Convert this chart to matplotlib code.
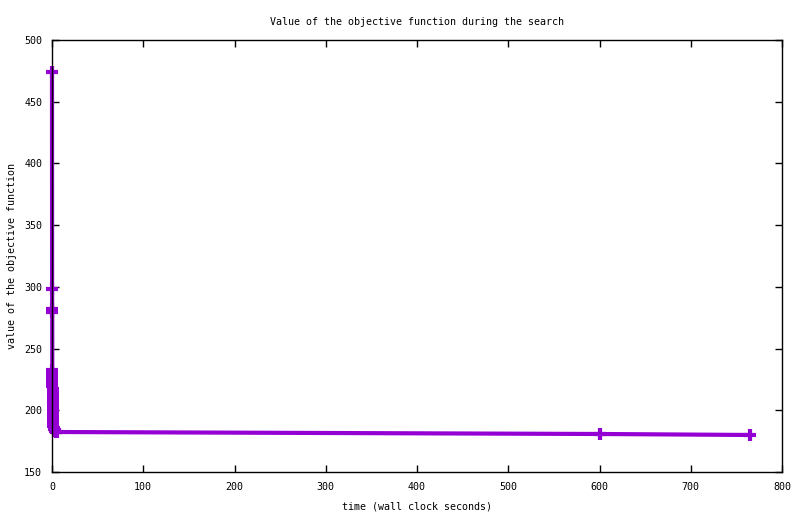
import matplotlib
matplotlib.use("Agg")
import matplotlib.pyplot as plt

# search trace: wall clock seconds vs objective value
tiempo = [0.0, 0.1, 0.2, 0.25, 0.3, 0.35, 0.4, 0.45, 0.5, 0.55, 0.6, 0.65, 0.7,
          0.75, 0.8, 0.85, 0.9, 1.0, 1.1, 1.3, 1.6, 2.0, 2.5, 3.0, 3.6, 4.3, 5.0,
          600.0, 765.0]
objetivo = [474, 298, 282, 280, 233, 229, 226, 223, 220, 217, 214, 211, 208,
            205, 202, 199, 196, 193, 191, 189, 187, 186, 185, 184, 183, 182.8, 182.4,
            180.8, 180.0]

xticks = [0, 100, 200, 300, 400, 500, 600, 700, 800]
yticks = [150, 200, 250, 300, 350, 400, 450, 500]

plt.rcParams["font.family"] = ["DejaVu Sans Mono"]
plt.rcParams["font.size"] = 7.2

fig = plt.figure(figsize=(8, 5.14), dpi=100)
ax = fig.add_axes([0.065, 0.0817, 0.9125, 0.8405])

ax.plot(tiempo, objetivo, color="#9400D3", linewidth=3, marker="+",
        markersize=9, markeredgewidth=3, clip_on=False, zorder=2)

ax.set_xlim(0, 800)
ax.set_ylim(150, 500)
ax.set_xticks(xticks)
ax.set_yticks(yticks)
ax.tick_params(direction="in", length=5, width=1, top=True, right=True, pad=7,
               labelsize=7.2)
for s in ax.spines.values():
    s.set_linewidth(1)
    s.set_zorder(3)

ax.set_title("Value of the objective function during the search", fontsize=7.2, pad=11)
ax.set_xlabel("time (wall clock seconds)", labelpad=7)
ax.set_ylabel("value of the objective function", labelpad=5)

fig.savefig("out.png", dpi=100)
